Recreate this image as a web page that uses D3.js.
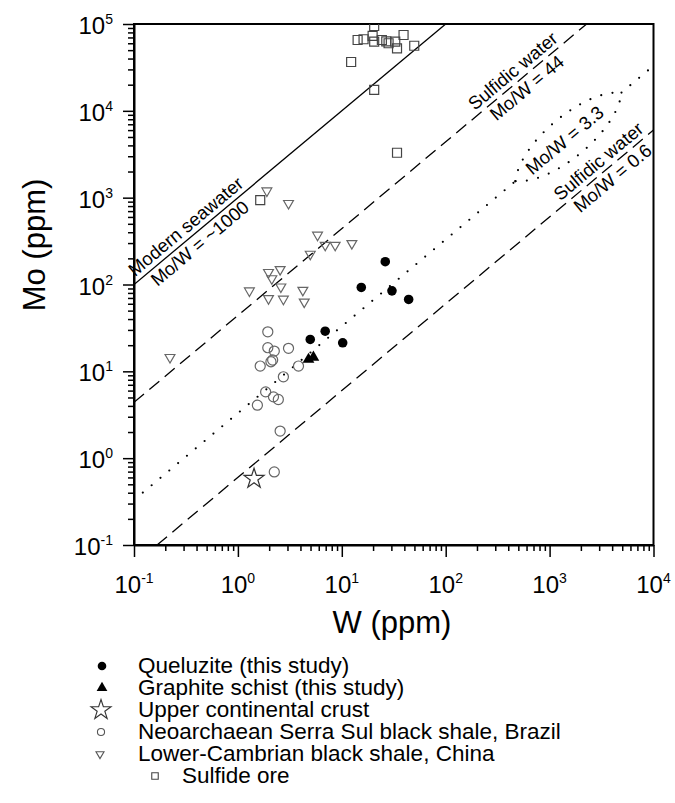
<!DOCTYPE html>
<html>
<head>
<meta charset="utf-8">
<title>Mo vs W</title>
<script src="https://cdn.jsdelivr.net/npm/d3@7/dist/d3.min.js"></script>
<style>
  body { margin: 0; background: #fff; }
  svg { display: block; font-family: "Liberation Sans", Arial, sans-serif; }
</style>
</head>
<body>
<svg id="chart" width="675" height="803"></svg>
<script>
// values, [W ppm, Mo ppm]
var queluzite = [[4.97, 23.3], [6.92, 29], [10.2, 21.3], [15.4, 92.5], [26.2, 183], [30.4, 84.5], [44, 67.3]];
var graphiteSchist = [[4.78, 13.7], [5.33, 14.5]];
var upperCrust = [[1.43, 0.58]];
var serraSul = [[1.94, 28.5], [1.94, 18.7], [2.24, 17.1], [3.07, 18.4], [1.64, 11.5], [2.08, 12.9],
  [2.16, 13.5], [3.83, 11.5], [2.74, 8.65], [1.85, 5.8], [2.2, 5.08], [2.45, 4.74], [1.54, 4.08],
  [2.55, 2.05], [2.24, 0.695]];
var cambrian = [[1.9, 1200], [3.07, 860], [5.84, 371], [6.92, 284], [8.63, 284], [12.5, 297],
  [4.97, 224], [1.97, 138], [2.55, 149], [2.12, 117], [2.59, 94], [1.29, 84.6], [4.22, 86],
  [1.97, 69], [2.74, 68], [4.35, 63], [0.222, 14.5]];
var sulfideOre = [[20.5, 94800], [14.2, 65400], [16.2, 66700], [19.8, 72800], [20.5, 62500],
  [24.3, 65400], [26.8, 63000], [28.2, 60000], [32.7, 62500], [34, 52500], [39.3, 74700],
  [49.8, 56200], [12.3, 36500], [20.5, 17400], [34, 3290], [1.64, 938]];

// Mo/W reference lines
var refRatios = [1000, 44, 3.3, 0.6];
var refTextAbove = ['Modern seawater', 'Sulfidic water', '', 'Sulfidic water'];
var refTextBelow = ['Mo/W = ~1000', 'Mo/W = 44', '', 'Mo/W = 0.6'];
var refTextOn = ['', '', 'Mo/W = 3.3', ''];

var xTickExps = [-1, 0, 1, 2, 3, 4];
var yTickExps = [-1, 0, 1, 2, 3, 4, 5];

var legendLabels = ['Queluzite (this study)', 'Graphite schist (this study)', 'Upper continental crust',
  'Neoarchaean Serra Sul black shale, Brazil', 'Lower-Cambrian black shale, China', 'Sulfide ore'];

var svg = d3.select('#chart');
var pLeft = 134, pRight = 653.5, pTop = 24, pBottom = 545;

var x = d3.scaleLog().domain([0.1, 1e4]).range([pLeft, pRight]);
var y = d3.scaleLog().domain([0.1, 1e5]).range([pBottom, pTop]);

svg.append('clipPath').attr('id', 'plotclip')
  .append('rect').attr('x', pLeft).attr('y', pTop).attr('width', pRight - pLeft).attr('height', pBottom - pTop);

// minor ticks, 2..9 in every decade
function minors(dom) {
  var out = [];
  for (var e = Math.round(Math.log10(dom[0])); e < Math.round(Math.log10(dom[1])); e++) {
    for (var k = 2; k < 10; k++) out.push(k * Math.pow(10, e));
  }
  return out;
}

var gx = svg.append('g').attr('transform', 'translate(0,' + pBottom + ')');
gx.call(d3.axisBottom(x).tickValues(xTickExps.map(function(e) { return Math.pow(10, e); }))
  .tickSize(12).tickSizeOuter(0).tickFormat(''));
gx.append('g').call(d3.axisBottom(x).tickValues(minors(x.domain())).tickSize(6).tickSizeOuter(0).tickFormat(''))
  .select('.domain').remove();
var gy = svg.append('g').attr('transform', 'translate(' + pLeft + ',0)');
gy.call(d3.axisLeft(y).tickValues(yTickExps.map(function(e) { return Math.pow(10, e); }))
  .tickSize(11).tickSizeOuter(0).tickFormat(''));
gy.append('g').call(d3.axisLeft(y).tickValues(minors(y.domain())).tickSize(6).tickSizeOuter(0).tickFormat(''))
  .select('.domain').remove();
svg.selectAll('.domain').attr('stroke-width', 2);
svg.selectAll('.tick line').attr('stroke-width', 1.5);

// frame
svg.append('rect').attr('x', pLeft).attr('y', pTop).attr('width', pRight - pLeft).attr('height', pBottom - pTop)
  .attr('fill', 'none').attr('stroke', '#000').attr('stroke-width', 2);

function powLabel(sel, e) {
  sel.append('tspan').text('10');
  sel.append('tspan').attr('dy', -10).attr('font-size', 14).text(e);
}
xTickExps.forEach(function(e) {
  svg.append('text').attr('x', x(Math.pow(10, e))).attr('y', 593)
    .attr('text-anchor', 'middle').attr('font-size', 24).call(powLabel, e);
});
yTickExps.forEach(function(e) {
  svg.append('text').attr('x', 113).attr('y', y(Math.pow(10, e)) + 10)
    .attr('text-anchor', 'end').attr('font-size', 24).call(powLabel, e);
});

svg.append('text').attr('x', 392).attr('y', 633).attr('text-anchor', 'middle')
  .attr('font-size', 31).text('W (ppm)');
svg.append('text').attr('transform', 'translate(45,245) rotate(-90)').attr('text-anchor', 'middle')
  .attr('font-size', 31).text('Mo (ppm)');

// reference lines
var plot = svg.append('g').attr('clip-path', 'url(#plotclip)');
var angle = Math.atan2(y(10) - y(1), x(10) - x(1)) * 180 / Math.PI;
var dashes = ['', '13,7', '0,11.5', '13,7'];
var lensW = [469, 4920];

function seg(r, w0, w1) {
  return d3.line()([[x(w0), y(w0 * r)], [x(w1), y(w1 * r)]]);
}

refRatios.forEach(function(r, i) {
  var w0 = Math.max(0.1, 0.1 / r), w1 = Math.min(1e4, 1e5 / r);
  var parts = refTextOn[i] ? [[w0, lensW[0]], [lensW[1], w1]] : [[w0, w1]];
  parts.forEach(function(p) {
    var path = plot.append('path').attr('d', seg(r, p[0], p[1]))
      .attr('fill', 'none').attr('stroke', '#000');
    if (dashes[i] === '0,11.5') {
      path.attr('stroke-width', 2.2).attr('stroke-linecap', 'round').attr('stroke-dasharray', dashes[i]);
    } else {
      path.attr('stroke-width', 1.3).attr('stroke-dasharray', dashes[i] || null);
    }
  });
  if (refTextOn[i]) {
    // dotted loop round the label
    var p0 = [x(lensW[0]), y(lensW[0] * r)], p1 = [x(lensW[1]), y(lensW[1] * r)];
    var dx = p1[0] - p0[0], dy = p1[1] - p0[1], len = Math.hypot(dx, dy);
    var nx = dy / len, ny = -dx / len;
    [1, -1].forEach(function(s) {
      var k = 27 * s;
      var c1 = [p0[0] + dx * 0.2 + nx * k, p0[1] + dy * 0.2 + ny * k];
      var c2 = [p0[0] + dx * 0.8 + nx * k, p0[1] + dy * 0.8 + ny * k];
      plot.append('path')
        .attr('d', 'M' + p0 + 'C' + c1 + ' ' + c2 + ' ' + p1)
        .attr('fill', 'none').attr('stroke', '#000').attr('stroke-width', 2.2)
        .attr('stroke-linecap', 'round').attr('stroke-dasharray', '0,11.5');
    });
  }
});

var labelW = [0.37, 520, 1390, 3470];
refRatios.forEach(function(r, i) {
  var g = svg.append('g')
    .attr('transform', 'translate(' + x(labelW[i]) + ',' + y(labelW[i] * r) + ') rotate(' + angle + ')')
    .attr('font-size', 18.5).attr('text-anchor', 'middle');
  if (refTextAbove[i]) g.append('text').attr('y', -5).text(refTextAbove[i]);
  if (refTextBelow[i]) g.append('text').attr('y', 17).text(refTextBelow[i]);
  if (refTextOn[i]) g.append('text').attr('y', 6.5).text(refTextOn[i]);
});

// markers
function sym(type, size) { return d3.symbol().type(type).size(size)(); }
function points(data, type, size, fill, stroke, rot) {
  plot.selectAll(null).data(data).enter().append('path')
    .attr('d', sym(type, size))
    .attr('transform', function(d) {
      return 'translate(' + x(d[0]) + ',' + y(d[1]) + ')' + (rot ? ' rotate(' + rot + ')' : '');
    })
    .attr('fill', fill).attr('stroke', stroke).attr('stroke-width', 1.2);
}
points(sulfideOre, d3.symbolSquare, 81, 'none', '#444');
points(cambrian, d3.symbolTriangle, 42, 'none', '#666', 180);
points(serraSul, d3.symbolCircle, 80, 'none', '#666');
points(upperCrust, d3.symbolStar, 124, '#fff', '#333');
points(queluzite, d3.symbolCircle, 72, '#000', 'none');
points(graphiteSchist, d3.symbolTriangle, 60, '#000', 'none');

// legend
var legendSyms = [
  { type: d3.symbolCircle, size: 58, fill: '#000', stroke: 'none', x: 102 },
  { type: d3.symbolTriangle, size: 50, fill: '#000', stroke: 'none', x: 102 },
  { type: d3.symbolStar, size: 124, fill: '#fff', stroke: '#333', x: 101 },
  { type: d3.symbolCircle, size: 40, fill: 'none', stroke: '#555', x: 101 },
  { type: d3.symbolTriangle, size: 28, fill: 'none', stroke: '#555', x: 100, rot: 180 },
  { type: d3.symbolSquare, size: 42, fill: 'none', stroke: '#444', x: 155 }
];
var lg = svg.append('g');
legendLabels.forEach(function(t, i) {
  var by = 673 + i * 22;
  var s = legendSyms[i];
  lg.append('path').attr('d', sym(s.type, s.size))
    .attr('transform', 'translate(' + s.x + ',' + (by - 7) + ')' + (s.rot ? ' rotate(' + s.rot + ')' : ''))
    .attr('fill', s.fill).attr('stroke', s.stroke).attr('stroke-width', 1.1);
  lg.append('text').attr('x', i === 5 ? 182 : 138).attr('y', by).attr('font-size', 22.5).text(t);
});
</script>
</body>
</html>
